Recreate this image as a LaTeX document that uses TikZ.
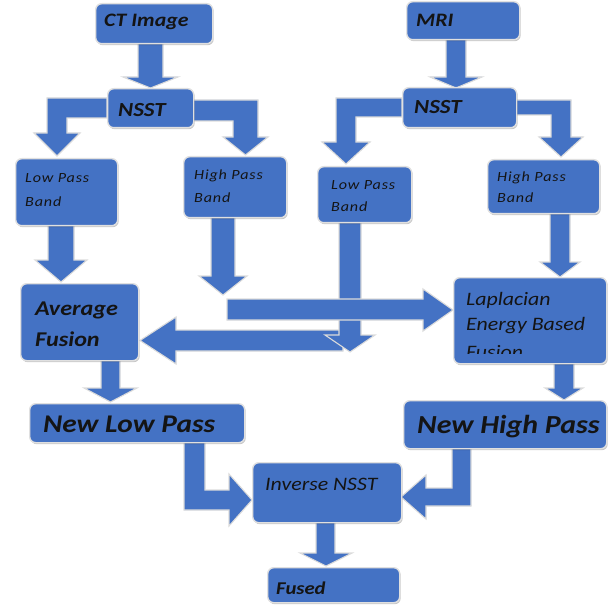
\documentclass[tikz,border=0pt]{standalone}
\usepackage{fontspec}
\setmainfont{Carlito}[FakeStretch=1.15]
\usetikzlibrary{shadows}
\definecolor{myblue}{RGB}{68,114,196}
\newcommand\myfs[1]{\fontsize{#1}{#1}\selectfont}
\tikzset{
  barrow/.style={fill=myblue, draw=black!14, line width=1.1pt, line join=miter},
  box/.style={rectangle, rounded corners=6pt, fill=myblue, draw=black!12, line width=1.4pt,
    anchor=north west, inner sep=0pt,
    drop shadow={shadow xshift=1pt, shadow yshift=-1.5pt, fill=black, opacity=0.22}},
  txt/.style={anchor=base west, inner sep=0pt, text=black!92},
  bi/.style={txt, font=\bfseries\itshape},
  it/.style={txt, font=\itshape},
  sm/.style={txt, font=\itshape\myfs{14}\addfontfeatures{LetterSpace=6}}
}
\begin{document}
\begin{tikzpicture}[x=1pt,y=-1pt]
\useasboundingbox (0,0) rectangle (608,609);
% ---------- block arrows ----------
% CT -> NSST
\draw[barrow] (138,43) -- (138,77) -- (123,77) -- (150.5,88) -- (178,77) -- (163,77) -- (163,43) -- cycle;
% MRI -> NSST
\draw[barrow] (446,39) -- (446,77) -- (430,77) -- (456,88) -- (482,77) -- (466,77) -- (466,39) -- cycle;
% NSST left -> Low pass left
\draw[barrow] (107,98) -- (47,98) -- (47,133) -- (34,133) -- (57,156) -- (80,133) -- (67,133) -- (67,118) -- (107,118) -- cycle;
% NSST left -> High pass left
\draw[barrow] (193,100) -- (258,100) -- (258,137) -- (268,137) -- (245.5,155) -- (223,137) -- (233,137) -- (233,121) -- (193,121) -- cycle;
% NSST right -> Low pass right
\draw[barrow] (402,98) -- (336,98) -- (336,142) -- (322,142) -- (346,164) -- (370,142) -- (356,142) -- (356,117) -- (402,117) -- cycle;
% NSST right -> High pass right
\draw[barrow] (516,100) -- (571,100) -- (571,137) -- (583,137) -- (561,157) -- (539,137) -- (551,137) -- (551,115) -- (516,115) -- cycle;
% Low pass left -> Average fusion
\draw[barrow] (48,225) -- (48,260) -- (35,260) -- (61,282) -- (87,260) -- (74,260) -- (74,225) -- cycle;
% High pass left down
\draw[barrow] (211,217) -- (211,276) -- (199,276) -- (223,295) -- (247,276) -- (235,276) -- (235,217) -- cycle;
% left arrow to Average fusion
\draw[barrow] (343,330) -- (176,330) -- (176,317) -- (140,340.5) -- (176,364) -- (176,351) -- (343,351) -- cycle;
% Low pass right down
\draw[barrow] (339,222) -- (339,335) -- (325,335) -- (350,352) -- (375,335) -- (361,335) -- (361,222) -- cycle;
% horizontal arrow to Laplacian
\draw[barrow] (227,299) -- (423,299) -- (423,289) -- (453,310) -- (423,331) -- (423,320) -- (227,320) -- cycle;
% High pass right -> Laplacian
\draw[barrow] (550,213) -- (550,262) -- (540,262) -- (560,277) -- (580,262) -- (570,262) -- (570,213) -- cycle;
% Average -> New low pass
\draw[barrow] (101,360) -- (101,388) -- (84,388) -- (110.5,402) -- (137,388) -- (120,388) -- (120,360) -- cycle;
% Laplacian -> New high pass
\draw[barrow] (554,363) -- (554,388) -- (545,388) -- (564,400) -- (583,388) -- (574,388) -- (574,363) -- cycle;
% New low pass -> Inverse NSST
\draw[barrow] (184,442) -- (184,510) -- (229,510) -- (229,526) -- (252,500) -- (229,474) -- (229,490) -- (205,490) -- (205,442) -- cycle;
% New high pass -> Inverse NSST
\draw[barrow] (471,448) -- (471,506) -- (426,506) -- (426,519) -- (401,497) -- (426,475) -- (426,488) -- (452,488) -- (452,448) -- cycle;
% Inverse NSST -> Fused
\draw[barrow] (316,522) -- (316,553) -- (300,553) -- (326,566) -- (352,553) -- (335,553) -- (335,522) -- cycle;
% ---------- boxes ----------
\node[box, minimum width=117pt, minimum height=40pt] (ct) at (95,3) {};
\node[box, minimum width=113pt, minimum height=38pt] (mri) at (406,1) {};
\node[box, minimum width=86pt, minimum height=39pt] (nsstL) at (107,88) {};
\node[box, minimum width=114pt, minimum height=40pt] (nsstR) at (402,87) {};
\node[box, minimum width=102pt, minimum height=67pt] (lowL) at (15,158) {};
\node[box, minimum width=103pt, minimum height=61pt] (highL) at (183,156) {};
\node[box, minimum width=94pt, minimum height=56pt] (lowR) at (317,166) {};
\node[box, minimum width=112pt, minimum height=54pt] (highR) at (487,159) {};
\node[box, minimum width=118pt, minimum height=77pt] (avg) at (20,283) {};
\node[box, minimum width=153pt, minimum height=86pt] (lap) at (453,277) {};
\node[box, minimum width=215pt, minimum height=39pt] (newlow) at (29,403) {};
\node[box, minimum width=203pt, minimum height=48pt] (newhigh) at (403,400) {};
\node[box, minimum width=149pt, minimum height=60pt] (inv) at (252,462) {};
\node[box, minimum width=132pt, minimum height=35pt] (fused) at (267,567) {};
% ---------- texts ----------
\node[bi, font=\bfseries\itshape\myfs{19}] (tct) at (104,27) {CT Image};
\node[bi, font=\bfseries\itshape\myfs{19}] (tmri) at (416,27) {MRI};
\node[bi, font=\bfseries\itshape\myfs{20}] (tnl) at (118,117) {NSST};
\node[bi, font=\bfseries\itshape\myfs{20}] (tnr) at (414,114) {NSST};
\node[sm] (tl1) at (25,183) {Low Pass};
\node[sm] (tl2) at (25,207) {Band};
\node[sm] (th1) at (194,180) {High Pass};
\node[sm] (th2) at (194,203) {Band};
\node[sm] (tl3) at (331,190) {Low Pass};
\node[sm] (tl4) at (331,212) {Band};
\node[sm] (th3) at (497,182) {High Pass};
\node[sm] (th4) at (497,203) {Band};
\node[bi, font=\bfseries\itshape\myfs{21}] (ta1) at (35,315) {Average};
\node[bi, font=\bfseries\itshape\myfs{21}] (ta2) at (35,346) {Fusion};
\begin{scope}
\clip (453,277) rectangle (607,353);
\node[it, font=\itshape\myfs{19}] (tp1) at (466,305) {Laplacian};
\node[it, font=\itshape\myfs{19}] (tp2) at (466,330) {Energy Based};
\node[it, font=\itshape\myfs{19}] (tp3) at (466,358) {Fusion};
\end{scope}
\node[bi, font=\bfseries\itshape\myfs{25.5}] (tnlow) at (43,432) {New Low Pass};
\node[bi, font=\bfseries\itshape\myfs{26}] (tnhigh) at (417,433) {New High Pass};
\node[it, font=\itshape\myfs{19}] (tinv) at (265,490) {Inverse NSST};
\node[bi, font=\bfseries\itshape\myfs{18}] (tfu) at (276,594) {Fused};
\end{tikzpicture}
\end{document}
